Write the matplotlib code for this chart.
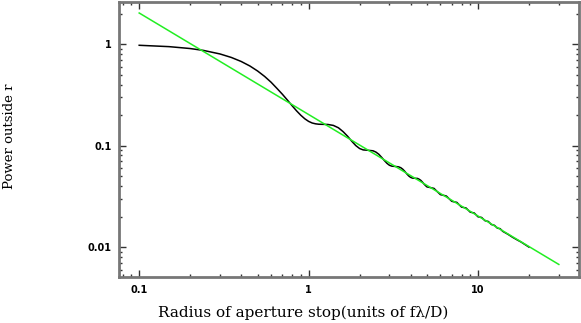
import matplotlib
matplotlib.use('Agg')
import matplotlib.pyplot as plt
from matplotlib.ticker import LogLocator, NullFormatter, FixedLocator, FixedFormatter

# power outside radius r
radius = [0.1, 0.15, 0.2, 0.24, 0.3, 0.35, 0.4, 0.45, 0.5, 0.55, 0.6, 0.65, 0.7, 0.75,
          0.8, 0.85, 0.9, 0.95, 1.0, 1.05, 1.1, 1.15, 1.22, 1.3, 1.4, 1.5, 1.6, 1.7,
          1.8, 1.9, 2.0, 2.1, 2.23, 2.4, 2.5, 2.6, 2.7, 2.8, 2.9, 3.0, 3.1, 3.24,
          3.4, 3.5, 3.6, 3.7, 3.8, 3.9, 4.0, 4.1, 4.24, 4.4, 4.5, 4.6, 4.7, 4.8,
          4.9, 5.0, 5.24, 5.5, 5.75, 6.0, 6.25, 6.5, 6.75, 7.0, 7.25, 7.5, 7.75,
          8.0, 8.5, 9.0, 9.5, 10, 10.5, 11, 11.5, 12, 12.5, 13, 13.5, 14, 15, 16,
          17, 18, 20]
power = [0.9757, 0.9461, 0.9062, 0.8678, 0.8012, 0.7398, 0.6755, 0.6100, 0.5441,
         0.4812, 0.4223, 0.3671, 0.3213, 0.2811, 0.2469, 0.2199, 0.1992, 0.1839,
         0.1735, 0.1672, 0.1641, 0.1626, 0.1622, 0.1617, 0.1583, 0.1500, 0.1372,
         0.1237, 0.1103, 0.1001, 0.0937, 0.0908, 0.0901, 0.0890, 0.0863, 0.0821,
         0.0766, 0.0714, 0.0670, 0.0641, 0.0628, 0.0624, 0.0618, 0.0606, 0.0585,
         0.0557, 0.0527, 0.0503, 0.0487, 0.0479, 0.0477, 0.0475, 0.0466, 0.0454,
         0.0437, 0.0419, 0.0404, 0.0392, 0.0386, 0.0379, 0.0352, 0.0329, 0.0324,
         0.0319, 0.0300, 0.0283, 0.0279, 0.0276, 0.0261, 0.0248, 0.0243, 0.0221,
         0.0217, 0.0199, 0.0196, 0.0182, 0.0179, 0.0167, 0.0164, 0.0154, 0.0152,
         0.0143, 0.0134, 0.0125, 0.0118, 0.0112, 0.0100]

# asymptotic power-law line (end points)
fit_r = [0.1, 30]
fit_p = [2.03, 0.00675]

xticks = [0.1, 1, 10]
xtick_labels = ['0.1', '1', '10']
yticks = [0.01, 0.1, 1]
ytick_labels = ['0.01', '0.1', '1']

fig = plt.figure(figsize=(5.81, 3.23), dpi=100)
ax = fig.add_axes([0.204, 0.142, 0.793, 0.851])

ax.plot(radius, power, color='black', lw=1.1)
ax.plot(fit_r, fit_p, color='#22ee22', lw=1.1)

ax.set_xscale('log')
ax.set_yscale('log')
ax.set_xlim(0.0755, 39.6)
ax.set_ylim(0.00506, 2.59)

ax.xaxis.set_major_locator(FixedLocator(xticks))
ax.xaxis.set_major_formatter(FixedFormatter(xtick_labels))
ax.yaxis.set_major_locator(FixedLocator(yticks))
ax.yaxis.set_major_formatter(FixedFormatter(ytick_labels))
ax.xaxis.set_minor_locator(LogLocator(base=10, subs=range(2, 10), numticks=20))
ax.yaxis.set_minor_locator(LogLocator(base=10, subs=range(2, 10), numticks=20))
ax.xaxis.set_minor_formatter(NullFormatter())
ax.yaxis.set_minor_formatter(NullFormatter())

ax.tick_params(which='both', direction='in', top=True, right=True, color='#333333')
ax.tick_params(which='major', length=5, width=1)
ax.tick_params(which='minor', length=2.5, width=1)
ax.tick_params(labelsize=7)
for lab in ax.get_xticklabels() + ax.get_yticklabels():
    lab.set_fontweight('bold')
ax.tick_params(axis='x', pad=6)
ax.tick_params(axis='y', pad=5)

for sp in ax.spines.values():
    sp.set_color('#777777')
    sp.set_linewidth(2)

ax.set_xlabel('Radius of aperture stop(units of f\u03bb/D)', family='DejaVu Serif',
              fontsize=11)
ax.xaxis.set_label_coords(0.40, -0.105)
ax.set_ylabel('Power outside r', family='DejaVu Serif', fontsize=9.5)
ax.yaxis.set_label_coords(-0.222, 0.513)

fig.savefig('out.png', dpi=100)
